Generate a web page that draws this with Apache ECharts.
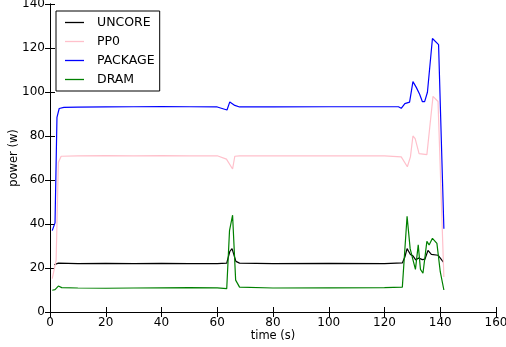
<!DOCTYPE html>
<html>
<head>
<meta charset="utf-8">
<script src="https://cdn.jsdelivr.net/npm/echarts@6/dist/echarts.min.js"></script>
<style>
html,body{margin:0;padding:0;background:#fff;}
#chart{width:506px;height:347px;}
</style>
</head>
<body>
<div id="chart"></div>
<script>
// ---- data (time in s, power in w) ----
var seriesNames = ['UNCORE', 'PP0', 'PACKAGE', 'DRAM'];
var xTicks = [0, 20, 40, 60, 80, 100, 120, 140, 160];
var yTicks = [0, 20, 40, 60, 80, 100, 120, 140];

var uncoreTime = [1.5, 3, 10, 20, 30, 40, 50, 60, 63.4, 64.5, 65.3, 66.7, 68, 80, 100, 120, 126.4, 127.3, 128.1, 129.3, 130.2, 131.2, 132.3, 133.6, 134.5, 135.6, 136.8, 139.2, 141.2];
var uncoreValues = [21.5, 22.2, 22, 22.1, 22, 22.1, 22, 22, 22.2, 27.5, 28.8, 23, 22.2, 22, 22.1, 22, 22.3, 25, 28.8, 26.1, 25.5, 23.7, 24.5, 23.8, 24, 28, 26.2, 25.8, 22.6];

var pp0Time = [0.8, 2.2, 3, 4, 10, 20, 30, 40, 50, 60, 63.3, 65.5, 66.3, 68, 80, 100, 120, 126, 128.2, 129.3, 130.2, 131, 132.4, 135.2, 137.4, 139.2, 141.3];
var pp0Values = [15.2, 23.5, 68, 70.8, 71, 71.1, 71, 71.1, 71, 71, 69.5, 65, 70.8, 71, 71, 71, 71, 70.5, 66, 70.5, 80, 78.8, 72, 71.5, 98, 95.7, 15.9];

var packageTime = [0.8, 1.8, 2.5, 3.3, 5, 10, 20, 30, 40, 50, 60, 63.5, 64.5, 66.3, 68, 80, 100, 120, 125, 126, 127.3, 129, 130.2, 131.4, 132.6, 133.6, 134.4, 135.4, 137.2, 139.4, 141.3];
var packageValues = [37, 40.5, 88.5, 92.5, 93, 93.1, 93.2, 93.3, 93.4, 93.3, 93.2, 91.8, 95.5, 93.9, 93.2, 93.2, 93.3, 93.3, 93.3, 92.6, 94.7, 95.4, 104.7, 102.1, 99, 95.6, 95.6, 99.9, 124.3, 121.5, 37.8];

var dramTime = [0.8, 1.8, 3, 4.2, 10, 20, 30, 40, 50, 60, 63.4, 64.4, 65.5, 66.6, 68, 80, 100, 120, 126.4, 128.1, 129.2, 130.1, 131.1, 132.1, 132.9, 133.8, 135.2, 136, 137.2, 138.8, 140, 141.3];
var dramValues = [9.9, 10.2, 11.8, 11.1, 10.9, 10.8, 10.9, 11, 11.1, 11, 10.6, 37, 44, 14.5, 11.3, 10.9, 11, 11.1, 11.3, 43.5, 28.8, 24.3, 19.4, 30.5, 19.4, 17.6, 32.1, 30.5, 33.5, 31.2, 18.3, 10];

var colors = ['#000000', '#ffc0cb', '#0000ff', '#008000'];

function pairs(t, v) { return t.map(function (x, i) { return [x, v[i]]; }); }
var seriesData = [
  pairs(uncoreTime, uncoreValues),
  pairs(pp0Time, pp0Values),
  pairs(packageTime, packageValues),
  pairs(dramTime, dramValues)
];

var font = 'DejaVu Sans';
var chart = echarts.init(document.getElementById('chart'), null, {renderer: 'canvas'});

function axisCommon(extra) {
  var base = {
    type: 'value',
    axisLine: {show: true, lineStyle: {color: '#000', width: 1}},
    axisTick: {show: true, inside: true, length: 5, lineStyle: {color: '#000', width: 1}},
    splitLine: {show: false},
    axisLabel: {color: '#000', fontFamily: font, fontSize: 12, margin: 5}
  };
  for (var k in extra) base[k] = extra[k];
  return base;
}

chart.setOption({
  animation: false,
  backgroundColor: '#fff',
  color: colors,
  grid: {left: 50, right: 10, top: 4, bottom: 35, containLabel: false, outerBoundsMode: 'none'},
  legend: {
    orient: 'vertical',
    left: 56,
    top: 11,
    data: seriesNames.map(function (n) { return {name: n, icon: 'rect'}; }),
    backgroundColor: '#fff',
    borderColor: '#000',
    borderWidth: 1,
    borderRadius: 0,
    padding: [4, 5, 4, 9],
    itemWidth: 19,
    itemHeight: 1.3,
    itemGap: 4,
    textStyle: {color: '#000', fontFamily: font, fontSize: 12.5, lineHeight: 15, padding: [0, 0, 0, 8]}
  },
  xAxis: [
    axisCommon({min: 0, max: 160, interval: 20, position: 'bottom',
      name: 'time (s)', nameLocation: 'middle', nameGap: 18, nameMoveOverlap: false,
      nameTextStyle: {color: '#000', fontFamily: font, fontSize: 11.5}}),
    axisCommon({min: 0, max: 160, interval: 20, position: 'top', axisLabel: {show: false}})
  ],
  yAxis: [
    axisCommon({min: 0, max: 140, interval: 20, position: 'left',
      name: 'power (w)', nameLocation: 'middle', nameGap: 30, nameRotate: 90, nameMoveOverlap: false,
      nameTextStyle: {color: '#000', fontFamily: font, fontSize: 11.5}}),
    axisCommon({min: 0, max: 140, interval: 20, position: 'right', axisLabel: {show: false}})
  ],
  series: seriesNames.map(function (name, i) {
    return {
      name: name,
      type: 'line',
      xAxisIndex: 0,
      yAxisIndex: 0,
      data: seriesData[i],
      symbol: 'none',
      showSymbol: false,
      lineStyle: {color: colors[i], width: 1.2},
      itemStyle: {color: colors[i]},
      z: 2 + (i === 3 ? 1 : 0)
    };
  })
});
</script>
</body>
</html>
